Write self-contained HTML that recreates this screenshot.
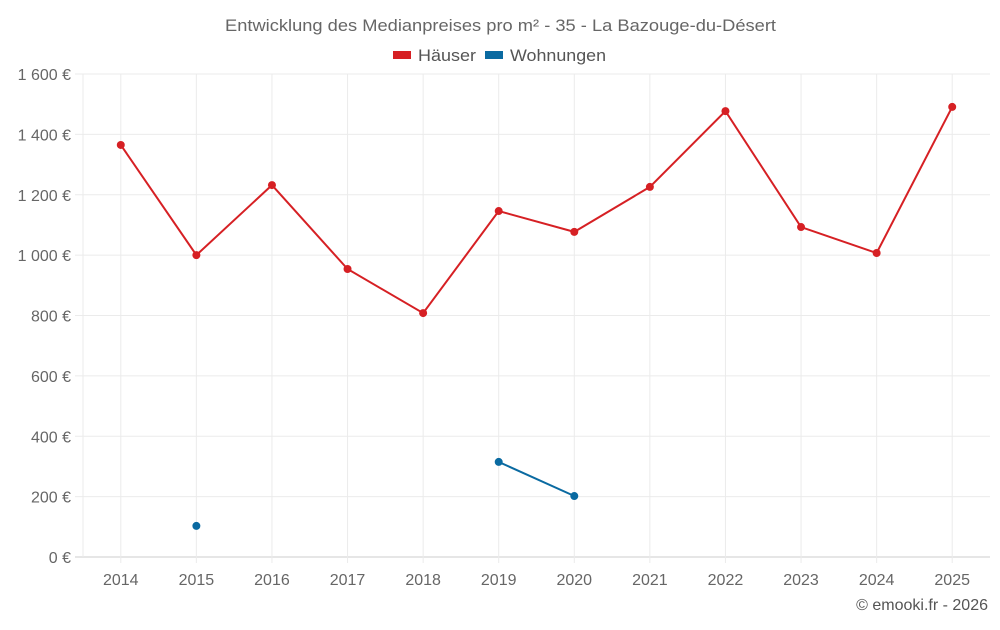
<!DOCTYPE html>
<html><head><meta charset="utf-8"><style>
body{margin:0;background:#fff;font-family:"Liberation Sans",sans-serif;}
svg text{font-family:"Liberation Sans",sans-serif;}
</style></head><body>
<svg id="c" width="1000" height="625">
<text x="225" y="31" font-size="17" textLength="551" lengthAdjust="spacingAndGlyphs" fill="#666">Entwicklung des Medianpreises pro m² - 35 - La Bazouge-du-Désert</text>
<g><rect x="393" y="51" width="18" height="8" fill="#d62024"/><text x="418" y="61" font-size="17" textLength="58" lengthAdjust="spacingAndGlyphs" fill="#555">Häuser</text></g>
<g><rect x="485" y="51" width="18" height="8" fill="#0a6aa1"/><text x="510" y="61" font-size="17" textLength="96" lengthAdjust="spacingAndGlyphs" fill="#555">Wohnungen</text></g>
<g id="grid"></g><g id="axes"></g><g id="series"></g>
<text x="988" y="610" text-anchor="end" font-size="16" fill="#555">© emooki.fr - 2026</text>
</svg>
<script>
const categories=["2014","2015","2016","2017","2018","2019","2020","2021","2022","2023","2024","2025"];
const haeuser=[1365,1000,1232,954,808,1146,1077,1226,1477,1093,1007,1491];
const wohnungen=[null,103,null,null,null,315,202,null,null,null,null,null];
const yTicks=[0,200,400,600,800,1000,1200,1400,1600];
const yLabels=["0 €","200 €","400 €","600 €","800 €","1 000 €","1 200 €","1 400 €","1 600 €"];
const L=83,R=990,T=74,B=557,YMAX=1600;
const bw=(R-L)/categories.length;
const x=i=>L+bw*(i+0.5);
const y=v=>B-(v/YMAX)*(B-T);
const NS="http://www.w3.org/2000/svg";
function mk(p,tag,a){const e=document.createElementNS(NS,tag);for(const k in a)e.setAttribute(k,a[k]);p.appendChild(e);return e;}
const g=document.getElementById('grid'),ax=document.getElementById('axes'),s=document.getElementById('series');
yTicks.forEach((t,i)=>{
 const l=mk(g,'line',{x1:75,x2:R,y1:y(t),y2:y(t),stroke:i==0?'#ccc':'#ebebeb'});
 
 
 const tx=mk(ax,'text',{x:71,y:y(t)+6,'text-anchor':'end','font-size':16,fill:'#666'});tx.textContent=yLabels[i];
 
 
});
const l0=mk(g,'line',{x1:L,x2:L,y1:T,y2:B,stroke:'#ebebeb'});


categories.forEach((c,i)=>{
 const l=mk(g,'line',{x1:x(i),x2:x(i),y1:T,y2:B+6,stroke:'#ebebeb'});
 
 
 const tx=mk(ax,'text',{x:x(i),y:585,'text-anchor':'middle','font-size':16,fill:'#666'});tx.textContent=c;
 
 
});
function draw(data,color,name){
 let segs=[],cur=[];
 data.forEach((v,i)=>{if(v==null){if(cur.length)segs.push(cur);cur=[];}else cur.push([x(i),y(v)]);});
 if(cur.length)segs.push(cur);
 segs.forEach(sg=>{if(sg.length>1){const p=mk(s,'polyline',{points:sg.map(q=>q.join(',')).join(' '),fill:'none',stroke:color,'stroke-width':2});
  
  }});
 data.forEach((v,i)=>{if(v==null)return;const c=mk(s,'circle',{cx:x(i),cy:y(v),r:4,fill:color});
  
  });
}
draw(haeuser,'#d62024','haeuser');
draw(wohnungen,'#0a6aa1','wohnungen');
</script>
</body></html>
